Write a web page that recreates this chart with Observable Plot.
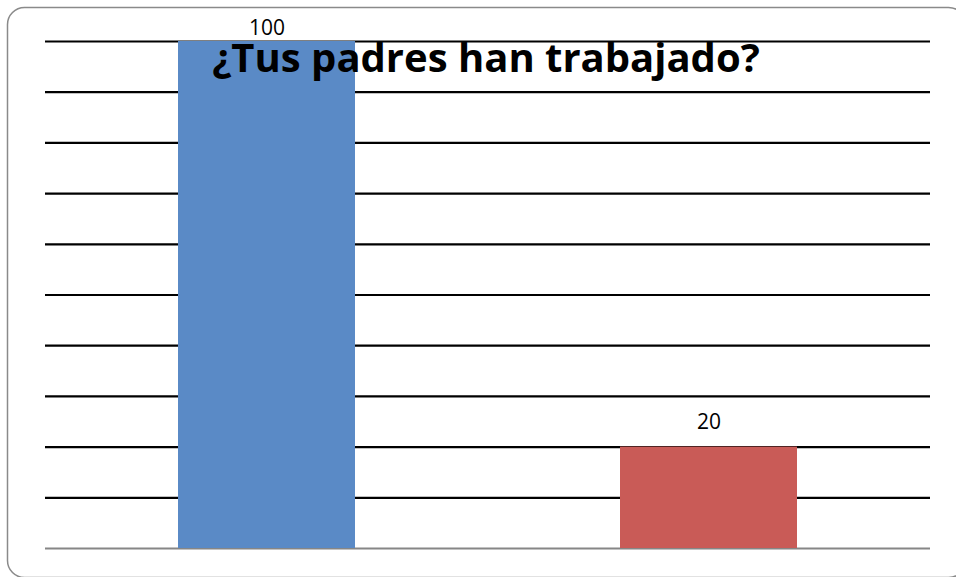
<!DOCTYPE html>
<html>
<head>
<meta charset="utf-8">
<script src="https://cdn.jsdelivr.net/npm/d3@7"></script>
<script src="https://cdn.jsdelivr.net/npm/@observablehq/plot@0.6"></script>
<style>
  html, body { margin: 0; padding: 0; background: white; overflow: hidden; }
  #chart svg { display: block; overflow: hidden; max-width: none; }
</style>
</head>
<body>
<div id="chart"></div>
<script>
const title = "¿Tus padres han trabajado?";
const categories = ["Sí", "No"];
const values = [100, 20];
const colors = ["#5A8AC6", "#C95B57"];
const gridTicks = [10, 20, 30, 40, 50, 60, 70, 80, 90, 100];
const baseline = [0];
const yMax = 100;

const data = categories.map((c, i) => ({category: c, value: values[i], color: colors[i]}));

const chart = Plot.plot({
  width: 956,
  height: 577,
  marginLeft: 45,
  marginRight: 26,
  marginTop: 41,
  marginBottom: 29,
  style: {fontFamily: "'Open Sans', Lato, sans-serif", background: "white", overflow: "hidden"},
  x: {domain: categories, paddingInner: 0.6, paddingOuter: 0.3, axis: null},
  y: {domain: [0, yMax], axis: null},
  marks: [
    Plot.frame({
      stroke: "#8a8a8a", strokeWidth: 1.5, rx: 17, ry: 17,
      insetLeft: -38, insetTop: -34, insetRight: -35, insetBottom: -29
    }),
    Plot.ruleY(gridTicks, {stroke: "#000", strokeWidth: 2.2}),
    Plot.ruleY(baseline, {stroke: "#868686", strokeWidth: 2.2}),
    Plot.barY(data, {x: "category", y: "value", fill: "color"}),
    // labels: Excel keeps the label of a full-height bar inside the chart area
    Plot.text(data.filter(d => d.value < yMax), {
      x: "category", y: "value", text: d => String(d.value),
      lineAnchor: "bottom", dy: -18, fontSize: 21, fill: "#000"
    }),
    Plot.text(data.filter(d => d.value >= yMax), {
      x: "category", y: "value", text: d => String(d.value),
      lineAnchor: "bottom", dy: -7, fontSize: 21, fill: "#000"
    }),
    Plot.text([title], {
      frameAnchor: "top", text: d => d, dx: -2, dy: 30, lineAnchor: "bottom",
      fontSize: 40, fontWeight: "bold", fill: "#000",
      fontFamily: "'Open Sans', Lato, sans-serif"
    })
  ]
});

document.getElementById("chart").appendChild(chart);
</script>
</body>
</html>
